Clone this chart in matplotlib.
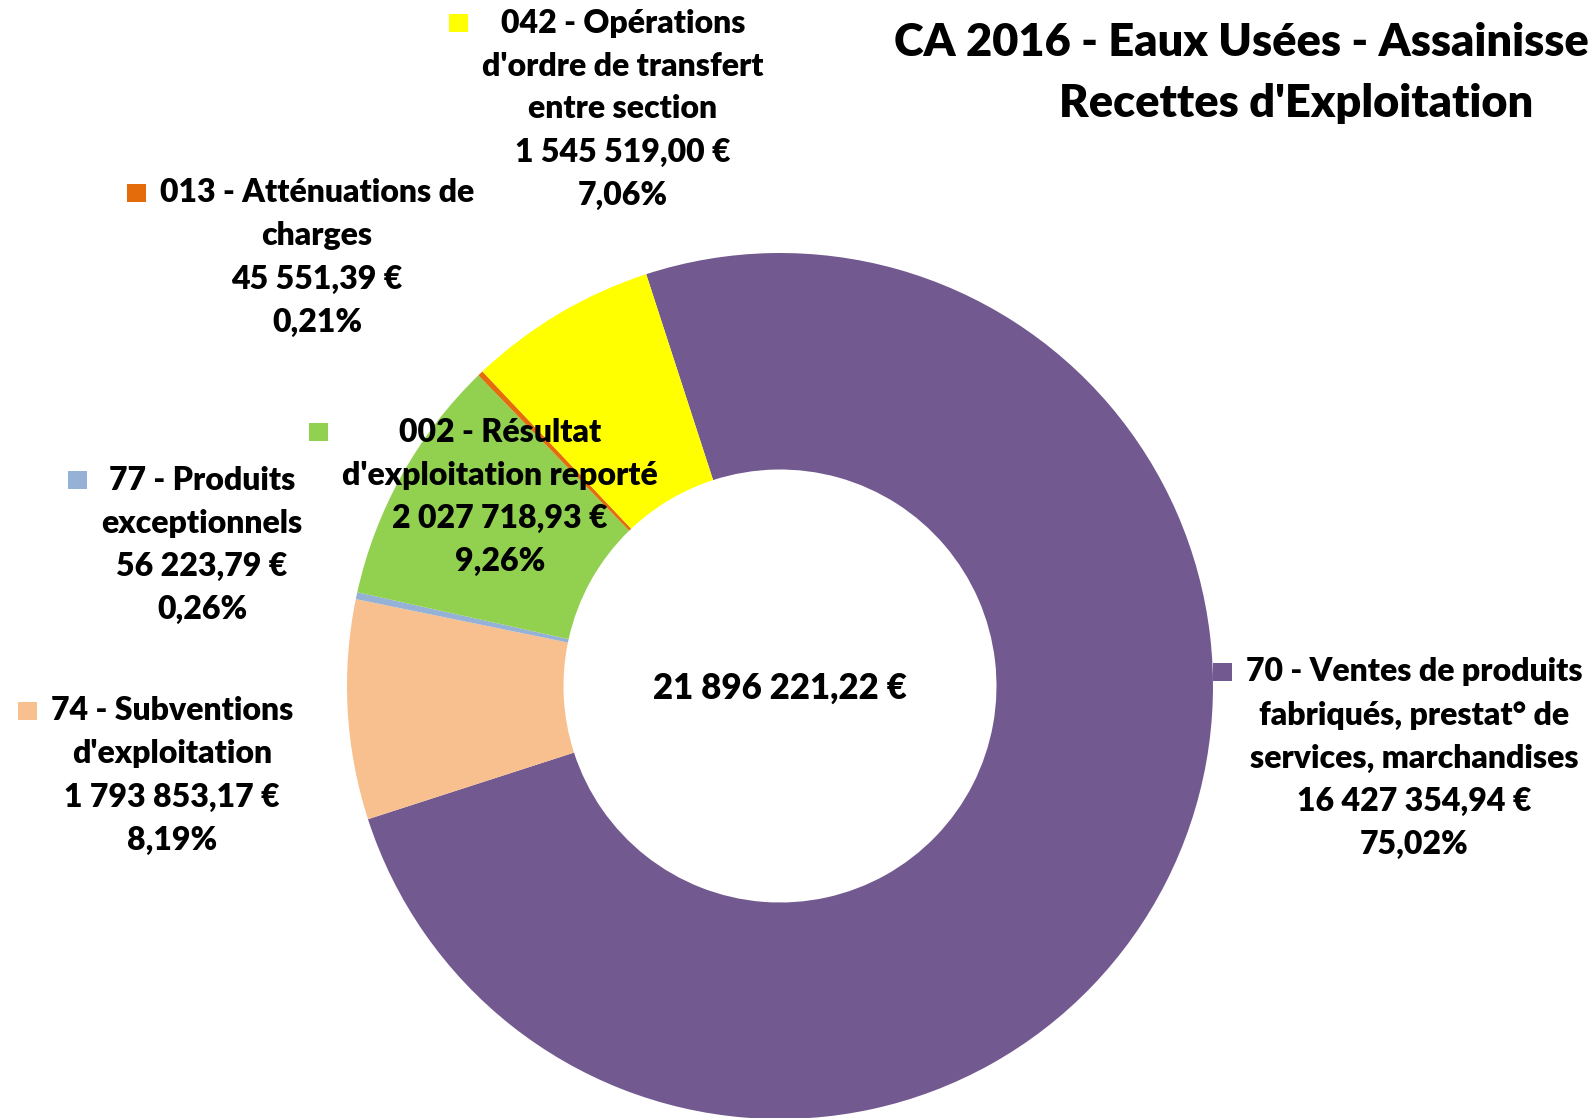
import matplotlib
matplotlib.use("Agg")
import matplotlib.pyplot as plt
from matplotlib.patches import Rectangle

# data (Excel order, clockwise)
codes = ["70", "74", "77", "002", "013", "042"]
names = [
    "70 - Ventes de produits\nfabriqués, prestat° de\nservices, marchandises",
    "74 - Subventions\nd'exploitation",
    "77 - Produits\nexceptionnels",
    "002 - Résultat\nd'exploitation reporté",
    "013 - Atténuations de\ncharges",
    "042 - Opérations\nd'ordre de transfert\nentre section",
]
values = [16427354.94, 1793853.17, 56223.79, 2027718.93, 45551.39, 1545519.00]
colors = ["#72598F", "#F9C08F", "#95B1D6", "#92D050", "#E46C0A", "#FFFF00"]

W, H = 1589, 1118
FONT = "Lato"
WEIGHT = "heavy"

def fr_money(v):
    s = f"{v:,.2f}"
    return s.replace(",", " ").replace(".", ",") + " €"

total = sum(values)

fig = plt.figure(figsize=(W / 100, H / 100), dpi=100)
ax = fig.add_axes([0, 0, 1, 1])

cx, cy, r = 780, H - 686, 433
ax.pie(values, colors=colors, startangle=108, counterclock=False,
       center=(cx, cy), radius=r, frame=True,
       wedgeprops=dict(width=r * 0.5, linewidth=0))
ax.set_xlim(0, W)
ax.set_ylim(0, H)
ax.set_aspect("equal")
ax.axis("off")

ax.text(cx, H - 688, fr_money(total), ha="center", va="center",
        fontsize=25, fontweight=WEIGHT, family=FONT)

# label block placement (center x, first line y in image pixels)
label_pos = {
    "042": (623, 23),
    "013": (317, 193),
    "002": (500, 432),
    "77": (202, 480),
    "74": (172, 711),
    "70": (1414, 672),
}
step = 43

fig.canvas.draw()
rend = fig.canvas.get_renderer()
for code, name, v, col in zip(codes, names, values, colors):
    lines = name.split("\n") + [fr_money(v), f"{v / total * 100:.2f}%".replace(".", ",")]
    x, y0 = label_pos[code]
    left = None
    for i, ln in enumerate(lines):
        t = ax.text(x, H - (y0 + i * step), ln, ha="center", va="center",
                    fontsize=23, fontweight=WEIGHT, family=FONT)
        bb = t.get_window_extent(rend)
        left = bb.x0 if left is None else min(left, bb.x0)
    ax.add_patch(Rectangle((left - 33, H - y0 - 9), 19, 18, color=col, lw=0))

fig.text(894 / W, 1 - 43 / H, "CA 2016 - Eaux Usées - Assainissement",
         ha="left", va="center", fontsize=32.5, fontweight=WEIGHT, family=FONT)
fig.text(1296 / W, 1 - 104 / H, "Recettes d'Exploitation",
         ha="center", va="center", fontsize=32.5, fontweight=WEIGHT, family=FONT)

fig.savefig("out.png", dpi=100)
